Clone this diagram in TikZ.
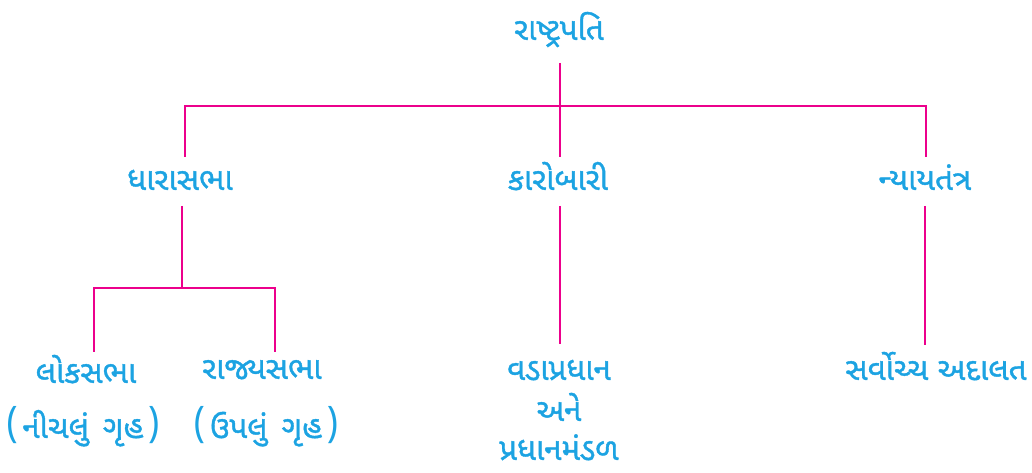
\documentclass[tikz,border=0pt]{standalone}
\usepackage{fontspec}
\newfontfamily\guj[Script=Gujarati,FakeBold=1.2]{Noto Sans Gujarati UI}
\newfontfamily\gujthin[Script=Gujarati]{Noto Sans Gujarati UI}
\definecolor{txtblue}{HTML}{1CA3E2}
\definecolor{linemag}{HTML}{EC008C}
\newcommand{\gpar}[1]{{\gujthin\fontsize{28pt}{30pt}\selectfont(}\hspace{0.12em}#1\hspace{0.12em}{\gujthin\fontsize{28pt}{30pt}\selectfont)}}
\begin{document}
\begin{tikzpicture}[x=0.75pt,y=-0.75pt,
  lbl/.style={anchor=base,inner sep=0pt,text=txtblue,font=\guj\fontsize{23.5pt}{28pt}\selectfont},
  conn/.style={draw=linemag,line width=2.2pt}]
\useasboundingbox (0,0) rectangle (1032,473);
% nodes
\node[lbl] (P) at (559,40) {રાષ્ટ્રપતિ};
\node[lbl] (D) at (180,190) {ધારાસભા};
\node[lbl] (K) at (558,190) {કારોબારી};
\node[lbl] (N) at (925,190) {ન્યાયતંત્ર};
\node[lbl] (L) at (86,383) {લોકસભા};
\node[lbl] (L2) at (83,438) {\gpar{નીચલું\hspace{0.45em}ગૃહ}};
\node[lbl] (R) at (262,379) {રાજ્યસભા};
\node[lbl] (R2) at (266,438) {\gpar{ઉપલું\hspace{0.45em}ગૃહ}};
\node[lbl] (V) at (559,380) {વડાપ્રધાન};
\node[lbl] (V2) at (559,421) {અને};
\node[lbl] (V3) at (559,460) {પ્રધાનમંડળ};
\node[lbl] (S) at (936,380) {સર્વોચ્ચ અદાલત};
% junctions
\coordinate (j0) at (560,106);
\coordinate (jl) at (185,106);
\coordinate (jr) at (926,106);
\coordinate (jd) at (182,288);
\coordinate (jd1) at (94,288);
\coordinate (jd2) at (275,288);
\coordinate (kx) at (560,0);
\coordinate (nx) at (925,0);
% connectors
\draw[conn,shorten <=17.25pt] (P.base -| j0) -- (j0);
\draw[conn,line cap=rect] (jl) -- (jr);
\draw[conn,shorten >=24.75pt] (j0) -- (j0 |- K.base);
\draw[conn,shorten >=24.75pt] (jl) -- (jl |- D.base);
\draw[conn,shorten >=24.75pt] (jr) -- (jr |- N.base);
\draw[conn,shorten <=12pt] (jd |- D.base) -- (jd);
\draw[conn,line cap=rect] (jd1) -- (jd2);
\draw[conn,shorten >=23.25pt] (jd1) -- (jd1 |- L.base);
\draw[conn,shorten >=20.25pt] (jd2) -- (jd2 |- R.base);
\draw[conn,shorten <=12pt,shorten >=27pt] (kx |- K.base) -- (kx |- V.base);
\draw[conn,shorten <=12pt,shorten >=26.25pt] (nx |- N.base) -- (nx |- S.base);
\end{tikzpicture}
\end{document}
